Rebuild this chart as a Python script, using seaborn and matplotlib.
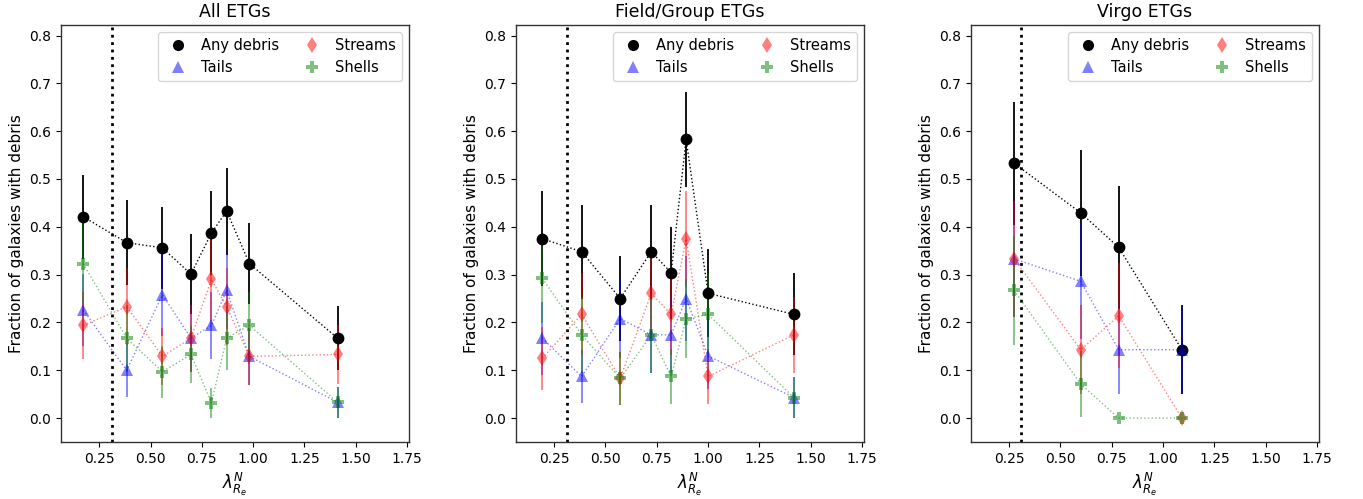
import numpy as np
import pandas as pd
import matplotlib
matplotlib.use("Agg")
import matplotlib.pyplot as plt
import seaborn as sns
from matplotlib.lines import Line2D

sns.set_style("ticks")
plt.rcParams["font.family"] = ["DejaVu Sans"]
plt.rcParams.update({"text.color": "black", "axes.labelcolor": "black",
                     "xtick.color": "black", "ytick.color": "black"})

titles = ["All ETGs", "Field/Group ETGs", "Virgo ETGs"]
series_names = ["Any debris", "Tails", "Streams", "Shells"]

# ---- All ETGs ----
x_all = [0.172, 0.384, 0.558, 0.697, 0.797, 0.871, 0.982, 1.412]
any_all = [0.421, 0.367, 0.356, 0.301, 0.387, 0.433, 0.323, 0.167]
any_all_err = [0.088, 0.089, 0.086, 0.083, 0.088, 0.091, 0.084, 0.067]
tails_all = [0.226, 0.100, 0.258, 0.167, 0.194, 0.267, 0.129, 0.033]
tails_all_err = [0.075, 0.055, 0.087, 0.070, 0.070, 0.080, 0.060, 0.032]
streams_all = [0.194, 0.233, 0.129, 0.167, 0.290, 0.233, 0.129, 0.133]
streams_all_err = [0.070, 0.080, 0.060, 0.070, 0.087, 0.080, 0.060, 0.062]
shells_all = [0.323, 0.167, 0.097, 0.133, 0.032, 0.167, 0.194, 0.033]
shells_all_err = [0.085, 0.070, 0.054, 0.060, 0.031, 0.067, 0.070, 0.032]

# ---- Field/Group ETGs ----
x_fg = [0.192, 0.384, 0.572, 0.723, 0.820, 0.893, 1.000, 1.418]
any_fg = [0.375, 0.348, 0.250, 0.348, 0.304, 0.583, 0.261, 0.217]
any_fg_err = [0.099, 0.098, 0.088, 0.098, 0.096, 0.099, 0.092, 0.086]
tails_fg = [0.167, 0.087, 0.208, 0.174, 0.174, 0.250, 0.130, 0.043]
tails_fg_err = [0.076, 0.056, 0.082, 0.079, 0.079, 0.088, 0.070, 0.042]
streams_fg = [0.125, 0.217, 0.083, 0.261, 0.217, 0.375, 0.087, 0.174]
streams_fg_err = [0.066, 0.086, 0.056, 0.092, 0.086, 0.099, 0.058, 0.079]
shells_fg = [0.292, 0.174, 0.083, 0.174, 0.087, 0.208, 0.217, 0.043]
shells_fg_err = [0.093, 0.079, 0.056, 0.079, 0.058, 0.082, 0.086, 0.042]

# ---- Virgo ETGs ----
x_v = [0.274, 0.599, 0.784, 1.092]
any_v = [0.533, 0.429, 0.357, 0.143]
any_v_err = [0.129, 0.132, 0.128, 0.093]
tails_v = [0.333, 0.286, 0.143, 0.143]
tails_v_err = [0.122, 0.121, 0.093, 0.093]
streams_v = [0.333, 0.143, 0.214, 0.0]
streams_v_err = [0.122, 0.093, 0.110, 0.0]
shells_v = [0.267, 0.071, 0.0, 0.0]
shells_v_err = [0.114, 0.069, 0.0, 0.0]

lambda_cut = 0.31

panels = [
    (x_all, [any_all, tails_all, streams_all, shells_all],
     [any_all_err, tails_all_err, streams_all_err, shells_all_err]),
    (x_fg, [any_fg, tails_fg, streams_fg, shells_fg],
     [any_fg_err, tails_fg_err, streams_fg_err, shells_fg_err]),
    (x_v, [any_v, tails_v, streams_v, shells_v],
     [any_v_err, tails_v_err, streams_v_err, shells_v_err]),
]

styles = {
    "Any debris": dict(color="black", marker="o", alpha=1.0, ms=8.5),
    "Tails": dict(color="blue", marker="^", alpha=0.5, ms=8.5),
    "Streams": dict(color="red", marker="d", alpha=0.5, ms=8.5),
    "Shells": dict(color="green", marker="P", alpha=0.5, ms=8.5),
}

fig = plt.figure(figsize=(13.63, 4.99), dpi=100)
lefts = [0.0448, 0.3786, 0.7124]
axes = [fig.add_axes([l, 0.1142, 0.2553, 0.8357]) for l in lefts]

for ax, title, (xs, ys, es) in zip(axes, titles, panels):
    for name, yv, ev in zip(series_names, ys, es):
        st = styles[name]
        df = pd.DataFrame({"lam": xs, "frac": yv})
        ax.errorbar(df["lam"], df["frac"], yerr=ev, fmt="none",
                    ecolor=st["color"], alpha=st["alpha"], elinewidth=1.3,
                    capsize=0, zorder=2)
        sns.lineplot(data=df, x="lam", y="frac", ax=ax, sort=False,
                     color=st["color"], alpha=st["alpha"], linestyle=":",
                     linewidth=1.0, marker=st["marker"], markersize=st["ms"],
                     markeredgewidth=0, markeredgecolor=st["color"],
                     legend=False, zorder=3)
    ax.axvline(lambda_cut, color="black", linestyle=":", linewidth=2)
    ax.set_xlim(0.064, 1.76)
    ax.set_ylim(-0.05, 0.822)
    ax.set_xticks([0.25, 0.5, 0.75, 1.0, 1.25, 1.5, 1.75])
    ax.set_yticks(np.arange(0, 0.81, 0.1))
    ax.set_xlabel(r"$\lambda^N_{R_e}$", fontsize=12)
    ax.set_ylabel("Fraction of galaxies with debris", fontsize=11)
    ax.set_title(title, fontsize=12.5)
    ax.tick_params(labelsize=10)
    for sp in ax.spines.values():
        sp.set_visible(True)
        sp.set_color("#333333")
        sp.set_linewidth(1.0)
    handles = [Line2D([], [], linestyle="none", marker=styles[n]["marker"],
                      color=styles[n]["color"], alpha=styles[n]["alpha"],
                      markersize=8, markeredgewidth=0)
               for n in series_names]
    ax.legend(handles, series_names, loc="upper right", ncol=2, fontsize=10.5,
              handletextpad=0.6, columnspacing=1.2)

fig.savefig("out.png", dpi=100)
